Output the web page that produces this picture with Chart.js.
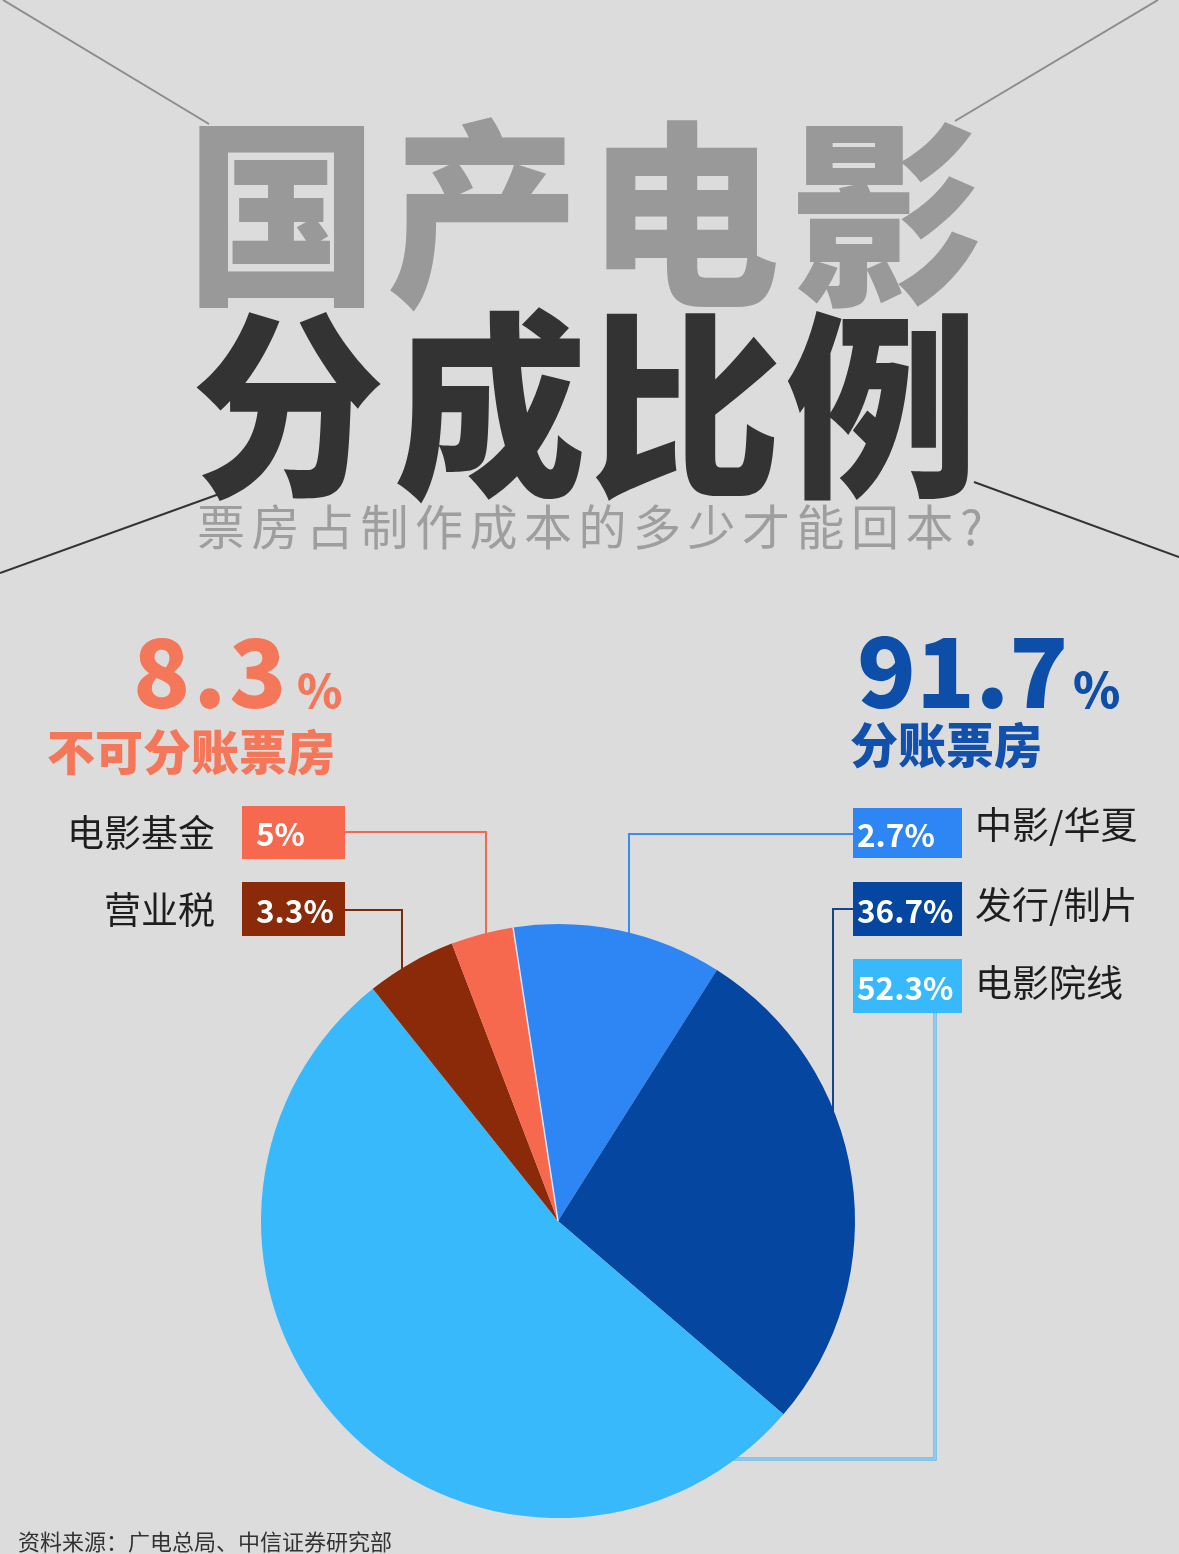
<!DOCTYPE html>
<html>
<head>
<meta charset="utf-8">
<script src="https://cdn.jsdelivr.net/npm/chart.js@4.4.0/dist/chart.umd.min.js"></script>
<style>
  html, body { margin: 0; padding: 0; background: #dcdcdc; }
  canvas { display: block; }
</style>
</head>
<body>
<canvas id="c" width="1179" height="1554"></canvas>
<script>
// ---------- data ----------
const categories   = ['中影/华夏', '发行/制片', '电影院线', '营业税', '电影基金'];
// slice sizes as drawn in the picture (clockwise from just left of 12 o'clock)
const sliceValues  = [11.4, 27.3, 53.0, 4.9, 3.4];
// percentages printed in the label boxes
const labelPercents = ['2.7%', '36.7%', '52.3%', '3.3%', '5%'];
const sliceColors  = ['#2e86f5', '#0446a0', '#38b9fb', '#8a2a08', '#f7694e'];
const groupTotals  = ['8.3', '91.7'];
const groupNames   = ['不可分账票房', '分账票房'];
const titleLine1   = '国产电影';
const titleLine2   = '分成比例';
const subtitle     = '票房占制作成本的多少才能回本?';
const sourceNote   = '资料来源：广电总局、中信证券研究部';

const CJK = '"Noto Sans CJK SC", "Noto Sans", sans-serif';

function txt(ctx, s, x, y, font, color, align, base) {
  ctx.font = font;
  ctx.fillStyle = color;
  ctx.textAlign = align || 'left';
  ctx.textBaseline = base || 'middle';
  ctx.fillText(s, x, y);
}
function spaced(ctx, s, x, y, font, color, gap) {
  ctx.font = font;
  for (const ch of s) {
    txt(ctx, ch, x, y, font, color, 'left', 'alphabetic');
    x += ctx.measureText(ch).width + gap;
  }
}
function line(ctx, pts, color, w) {
  ctx.beginPath();
  ctx.moveTo(pts[0][0], pts[0][1]);
  for (let i = 1; i < pts.length; i++) ctx.lineTo(pts[i][0], pts[i][1]);
  ctx.strokeStyle = color;
  ctx.lineWidth = w;
  ctx.lineCap = 'butt';
  ctx.lineJoin = 'miter';
  ctx.stroke();
}

const decor = {
  id: 'decor',
  beforeDraw(chart) {
    const ctx = chart.ctx;
    ctx.save();
    ctx.fillStyle = '#dcdcdc';
    ctx.fillRect(0, 0, chart.width, chart.height);

    // diagonal lines behind the title
    line(ctx, [[3, 0], [209, 124]], '#8c8c8c', 2);
    line(ctx, [[1158, 0], [955, 121]], '#8c8c8c', 2);
    line(ctx, [[0, 573], [222, 493]], '#333333', 2);
    line(ctx, [[974, 482], [1179, 557]], '#333333', 2);

    // big title, condensed
    const c1 = [282, 483, 683, 887];
    const c2 = [288, 490, 685, 882];
    [[titleLine1, c1, 213, '#999999'], [titleLine2, c2, 405, '#333333']].forEach(([s, cs, cy, col]) => {
      for (let i = 0; i < s.length; i++) {
        ctx.save();
        ctx.translate(cs[i], cy);
        ctx.scale(0.94, 0.97);
        txt(ctx, s[i], 0, 0, '900 205px ' + CJK, col, 'center', 'middle');
        ctx.restore();
      }
    });

    // subtitle, spread over its width
    ctx.font = '48px ' + CJK;
    let sx = 197;
    for (const ch of subtitle) {
      txt(ctx, ch, sx, 527, '48px ' + CJK, '#9e9e9e', 'left', 'middle');
      sx += ctx.measureText(ch).width + 6.5;
    }

    // group headings
    spaced(ctx, groupTotals[0], 133, 708, '900 94px ' + CJK, '#f4775a', 3);
    txt(ctx, '%', 297, 708, '900 46px ' + CJK, '#f4775a', 'left', 'alphabetic');
    txt(ctx, groupNames[0], 335, 752, '900 48px ' + CJK, '#f4775a', 'right', 'middle');

    txt(ctx, groupTotals[1], 857, 708, '900 97px ' + CJK, '#0c4ea8', 'left', 'alphabetic');
    txt(ctx, '%', 1073, 708, '900 48px ' + CJK, '#0c4ea8', 'left', 'alphabetic');
    txt(ctx, groupNames[1], 850, 745, '900 48px ' + CJK, '#1151ab', 'left', 'middle');

    // connectors (behind the pie)
    const arc = chart.getDatasetMeta(0).data[0];
    const cx = arc.x, cy = arc.y, r = arc.outerRadius;
    const edgeY = x => cy - Math.sqrt(r * r - (x - cx) * (x - cx));
    const edgeX = y => cx + Math.sqrt(r * r - (y - cy) * (y - cy));
    line(ctx, [[345, 832], [486, 832], [486, edgeY(486) + 6]], '#f26a4d', 2);
    line(ctx, [[345, 910], [402, 910], [402, edgeY(402) + 6]], '#7d2a0c', 2);
    line(ctx, [[853, 834], [629, 834], [629, edgeY(629) + 6]], '#3c8cf0', 2);
    line(ctx, [[853, 909], [833, 909], [833, edgeY(833) + 6]], '#1a448a', 2);
    line(ctx, [[935, 1012], [935, 1459], [edgeX(1459) - 6, 1459]], '#6cb8e6', 3.5);
    line(ctx, [[935, 1012], [935, 1459], [edgeX(1459) - 6, 1459]], '#9fdcfb', 1.2);

    // label boxes
    const boxes = [
      // [index, x, y, w, h, textX, labelX, labelAlign, labelY]
      [4, 242, 806, 103, 53, 256, 215, 'right', 833],
      [3, 242, 882, 103, 54, 256, 215, 'right', 910],
      [0, 853, 808, 109, 50, 857, 975, 'left', 825],
      [1, 853, 882, 109, 54, 857, 975, 'left', 905],
      [2, 853, 959, 109, 54, 857, 975, 'left', 983]
    ];
    boxes.forEach(([i, x, y, w, h, tx, lx, la, ly]) => {
      ctx.fillStyle = sliceColors[i];
      ctx.fillRect(x, y, w, h);
      txt(ctx, labelPercents[i], tx, y + h / 2 + 2, 'bold 31.5px ' + CJK, '#ffffff', 'left', 'middle');
      txt(ctx, categories[i], lx, ly, '37px ' + CJK, '#1e1e1e', la, 'middle');
    });

    // source note
    txt(ctx, sourceNote, 18, 1542, '22px ' + CJK, '#333333', 'left', 'middle');
    ctx.restore();
  },
  afterDatasetsDraw(chart) {
    // thin light separator at the start of the first slice
    const ctx = chart.ctx;
    const arc = chart.getDatasetMeta(0).data[0];
    const a = arc.startAngle;
    ctx.save();
    line(ctx, [[arc.x, arc.y], [arc.x + arc.outerRadius * Math.cos(a), arc.y + arc.outerRadius * Math.sin(a)]], 'rgba(235,240,250,0.9)', 1.5);
    ctx.restore();
  }
};

const chart = new Chart(document.getElementById('c'), {
  type: 'pie',
  data: {
    labels: categories,
    datasets: [{
      data: sliceValues,
      backgroundColor: sliceColors,
      borderWidth: 0
    }]
  },
  options: {
    responsive: false,
    animation: false,
    devicePixelRatio: 1,
    rotation: -8.7,
    layout: { padding: { left: 261, right: 324, top: 924, bottom: 36 } },
    plugins: { legend: { display: false }, tooltip: { enabled: false } },
    events: []
  },
  plugins: [decor]
});
</script>
</body>
</html>
